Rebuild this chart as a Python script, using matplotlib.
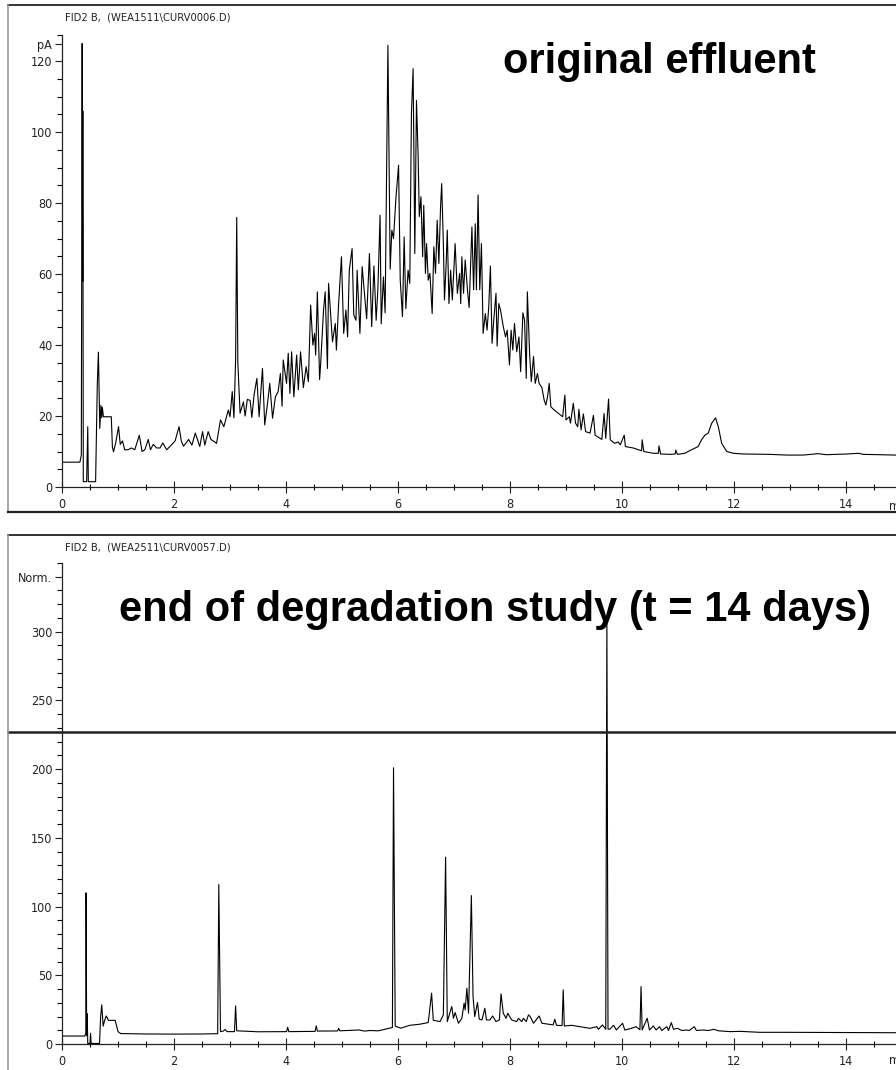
import numpy as np
import matplotlib
matplotlib.use('Agg')
import matplotlib.pyplot as plt
from matplotlib.lines import Line2D

# top trace: original effluent (time in min, signal in pA)
t_top = [0.0, 0.32, 0.345, 0.36, 0.368, 0.372, 0.38, 0.44, 0.46, 0.47, 0.60, 0.63, 0.65, 0.66,
         0.675, 0.695, 0.71, 0.72, 0.74, 0.88, 0.90, 0.92, 0.96, 1.01, 1.04, 1.08, 1.12, 1.18,
         1.24, 1.30, 1.38, 1.43, 1.48, 1.54, 1.58, 1.63, 1.69, 1.75, 1.80, 1.87, 1.95, 2.02,
         2.09, 2.13, 2.17, 2.22, 2.26, 2.32, 2.38, 2.46, 2.51, 2.55, 2.61, 2.66, 2.70, 2.76,
         2.83, 2.89, 2.97, 3.00, 3.04, 3.07, 3.10, 3.12, 3.14, 3.18, 3.24, 3.27, 3.31, 3.36,
         3.39, 3.43, 3.48, 3.52, 3.58, 3.62, 3.67, 3.71, 3.76, 3.81, 3.86, 3.90, 3.93, 3.95,
         4.01, 4.04, 4.07, 4.10, 4.14, 4.19, 4.22, 4.26, 4.31, 4.36, 4.40, 4.44, 4.48, 4.51,
         4.53, 4.56, 4.60, 4.62, 4.67, 4.70, 4.74, 4.76, 4.80, 4.83, 4.88, 4.90, 4.94, 4.99,
         5.03, 5.07, 5.10, 5.13, 5.18, 5.21, 5.25, 5.27, 5.32, 5.36, 5.40, 5.44, 5.49, 5.53,
         5.57, 5.61, 5.64, 5.68, 5.70, 5.74, 5.77, 5.82, 5.86, 5.89, 5.92, 5.96, 6.01, 6.04,
         6.08, 6.11, 6.14, 6.18, 6.21, 6.24, 6.27, 6.30, 6.33, 6.36, 6.38, 6.41, 6.44, 6.46,
         6.49, 6.51, 6.54, 6.57, 6.61, 6.64, 6.67, 6.70, 6.73, 6.76, 6.78, 6.81, 6.83, 6.86,
         6.88, 6.91, 6.94, 6.97, 7.02, 7.06, 7.10, 7.12, 7.14, 7.17, 7.20, 7.24, 7.27, 7.32,
         7.35, 7.38, 7.40, 7.43, 7.46, 7.49, 7.52, 7.56, 7.59, 7.62, 7.65, 7.68, 7.71, 7.75,
         7.77, 7.80, 7.83, 7.88, 7.92, 7.95, 7.99, 8.02, 8.05, 8.08, 8.12, 8.16, 8.19, 8.23,
         8.26, 8.29, 8.31, 8.35, 8.38, 8.42, 8.45, 8.49, 8.52, 8.57, 8.61, 8.64, 8.67, 8.70,
         8.73, 8.79, 8.86, 8.94, 8.98, 9.00, 9.06, 9.08, 9.13, 9.17, 9.21, 9.23, 9.27, 9.31,
         9.35, 9.43, 9.49, 9.52, 9.64, 9.68, 9.71, 9.76, 9.79, 9.87, 9.93, 9.97, 10.04, 10.06,
         10.20, 10.35, 10.36, 10.39, 10.56, 10.65, 10.66, 10.69, 10.86, 10.95, 10.96, 10.99,
         11.12, 11.23, 11.36, 11.42, 11.48, 11.54, 11.60, 11.67, 11.72, 11.78, 11.87, 11.99,
         12.17, 12.64, 12.94, 13.24, 13.50, 13.65, 14.01, 14.22, 14.31, 14.89]
y_top = [7.0, 7.0, 9.0, 125, 58, 106, 1.5, 1.5, 17, 1.5, 1.5, 28.7, 38, 29,
         16.5, 23, 19.5, 22.5, 19.8, 19.8, 11.3, 9.9, 12.5, 17, 12, 13, 10.5, 10.5,
         11, 10.5, 14.6, 10, 10.5, 13.4, 10.5, 12, 11, 11, 12.4, 10.5, 11.8, 13,
         17, 13, 11.5, 12.5, 13.4, 11.8, 15.2, 11.4, 15.6, 11.8, 15.6, 13.4, 13.0, 12.3,
         18.9, 17, 21.7, 19.8, 26.9, 19.5, 35.8, 76, 35, 20.8, 24, 20, 24.7, 24.4,
         19.6, 26, 30.6, 19.8, 33.4, 17.5, 23.6, 29.2, 19.4, 25.4, 26.9, 32, 22.8, 35.8,
         29.2, 37.7, 26.4, 38.1, 25.4, 37.2, 27.4, 38.1, 28, 33.9, 29.7, 51.3, 40, 43.3,
         37.2, 55, 30.3, 35, 49.9, 55, 33.4, 57.4, 48, 40.9, 46.1, 38.6, 51.7, 64.9,
         43.3, 49.9, 42.3, 61.1, 67.2, 48.5, 47, 61.1, 43.3, 62.1, 54.6, 47.4, 65.8, 45.2,
         62.3, 47, 55.6, 76.6, 46, 59.2, 49.1, 124.5, 61.4, 72.4, 70, 80.8, 90.7, 58.3,
         48, 70.5, 50.3, 61.1, 57.4, 105.3, 117.9, 65.8, 109, 93, 76.2, 81.8, 64.9, 79.4,
         60.2, 68.6, 58.3, 60.2, 48.9, 67.7, 60.2, 75.2, 63, 79, 85.5, 68.6, 52.7, 63,
         72.4, 51.7, 61.1, 52.7, 68.6, 54.6, 60.2, 51.7, 64.9, 54.6, 64, 55.6, 50.6, 73.3,
         55.6, 74.2, 55.6, 82.3, 55.6, 68.6, 43.3, 48.9, 44.2, 50.6, 62.3, 40.5, 47, 54.6,
         39.7, 51.7, 49.9, 45.2, 42.3, 44.2, 34.4, 44.2, 38.6, 46.1, 38.1, 42.3, 32.5, 49.1,
         47, 30.6, 55, 37.7, 29.7, 36.8, 29.2, 32, 29.2, 28, 24.5, 23.1, 25.4, 29.2,
         22.6, 21.7, 20.8, 19.8, 25.9, 18.9, 19.8, 18, 23.6, 18, 17, 21.9, 16.1, 20.6,
         15.6, 15.2, 20.2, 14.6, 13.4, 20.7, 13.7, 24.8, 13.3, 12.3, 12.7, 11.9, 14.6, 11.4,
         11.0, 10.2, 13.3, 10.0, 9.5, 9.5, 11.6, 9.3, 9.2, 9.3, 10.4, 9.2,
         9.5, 10.4, 11.4, 13.3, 14.6, 15.2, 17.9, 19.5, 17, 12.3, 10, 9.5,
         9.3, 9.2, 9.0, 9.0, 9.4, 9.1, 9.3, 9.5, 9.2, 9.0]

# bottom trace: end of degradation study (normalised signal)
t_bot = [0.0, 0.41, 0.425, 0.43, 0.44, 0.45, 0.46, 0.50, 0.51, 0.52, 0.67, 0.69, 0.71, 0.735,
         0.76, 0.79, 0.83, 0.95, 1.00, 1.05, 1.50, 2.00, 2.50, 2.78, 2.80, 2.83, 2.88, 2.91,
         2.95, 3.08, 3.10, 3.12, 3.50, 4.01, 4.03, 4.05, 4.52, 4.54, 4.56, 4.92, 4.94, 4.96,
         5.30, 5.40, 5.50, 5.65, 5.80, 5.90, 5.92, 5.95, 6.05, 6.21, 6.39, 6.54, 6.60, 6.63,
         6.75, 6.81, 6.85, 6.88, 6.96, 6.99, 7.02, 7.08, 7.14, 7.18, 7.20, 7.23, 7.26, 7.31,
         7.34, 7.37, 7.42, 7.45, 7.50, 7.55, 7.58, 7.64, 7.69, 7.75, 7.81, 7.84, 7.88, 7.93,
         7.96, 8.03, 8.12, 8.15, 8.21, 8.24, 8.29, 8.33, 8.36, 8.42, 8.52, 8.57, 8.65, 8.77,
         8.80, 8.83, 8.93, 8.95, 8.97, 9.10, 9.25, 9.43, 9.55, 9.58, 9.65, 9.71, 9.73, 9.75,
         9.78, 9.85, 9.90, 10.01, 10.05, 10.17, 10.25, 10.32, 10.34, 10.36, 10.45, 10.49,
         10.56, 10.61, 10.67, 10.71, 10.80, 10.83, 10.88, 10.92, 10.99, 11.07, 11.15, 11.20,
         11.29, 11.33, 11.45, 11.54, 11.64, 11.72, 11.93, 12.11, 12.46, 12.94, 13.54, 14.61,
         14.89]
y_bot = [5.8, 5.8, 8, 110, 6, 22, 0.4, 0.4, 7.8, 0.4, 0.4, 20, 28.5, 13,
         17, 20.4, 17.2, 17.2, 9, 7.6, 7.3, 7.2, 7.3, 7.5, 116, 9, 9.4, 10.5,
         9.0, 9.0, 27.7, 9.6, 8.9, 9.0, 12.2, 9.0, 9.2, 13.2, 9.4, 9.5, 11.5, 9.6,
         10.2, 9.4, 9.8, 9.6, 11, 12, 201, 13, 11.5, 13.6, 14.4, 15.6, 37, 17.3,
         16.3, 21.2, 136, 16.3, 27.3, 18.7, 22.9, 15.1, 18.7, 29.7, 24.8, 40.6, 22.4, 108,
         34.5, 20, 30.2, 18.1, 17.5, 26, 17.5, 17.5, 20.4, 16.3, 17.5, 36.5, 22.4, 18.7,
         22.4, 17.5, 16.3, 18.7, 16.3, 18.7, 16.3, 21.2, 20, 15.1, 20.4, 15.1, 14.6, 13.9,
         18.1, 13.6, 13.4, 39.4, 13.1, 13.6, 12.6, 11.4, 12.6, 10.7, 13.9, 10.7, 310, 10.9,
         10.7, 13.6, 10.2, 15.1, 10.2, 11.4, 12.6, 10.4, 41.8, 10.2, 18.7, 10.2,
         13.1, 10.2, 12.6, 9.8, 12.6, 9.8, 15.6, 10.7, 11.4, 9.8, 10.2, 9.8,
         12.6, 9.8, 10.2, 9.8, 10.7, 9.6, 9.0, 9.2, 8.5, 8.5, 8.4, 8.3,
         8.2]

top_yticks = [0, 20, 40, 60, 80, 100, 120, 125]
top_ylabels = ['0', '20', '40', '60', '80', '100', '120', 'pA']
bot_yticks = [0, 50, 100, 150, 200, 250, 300, 340]
bot_ylabels = ['0', '50', '100', '150', '200', '250', '300', 'Norm.']
xticks = [0, 2, 4, 6, 8, 10, 12, 14]

W, H = 896, 1070
# condensed face, close to the narrow font of the instrument printout
narrow = dict(family='DejaVu Sans', fontstretch='condensed')

fig = plt.figure(figsize=(W / 100, H / 100), dpi=100)
fig.patch.set_facecolor('white')

def px(x, y):
    return x / W, 1 - y / H

# outer frames of the two instrument printouts
for y_top_px, y_bot_px in [(5, 512), (535, 1075)]:
    fig.add_artist(Line2D([8 / W, 1], [1 - y_top_px / H] * 2, color='#333333', lw=1.4))
    fig.add_artist(Line2D([8 / W, 8 / W], [1 - y_top_px / H, 1 - y_bot_px / H],
                          color='#999999', lw=1.2))
fig.add_artist(Line2D([8 / W, 1], [1 - 512 / H] * 2, color='#222222', lw=1.6))


def style_axis(ax, ymax, yticks, ylabels, minor_step):
    ax.set_xlim(0, (W - 62) / 56)
    ax.set_ylim(0, ymax)
    for s in ['top', 'right']:
        ax.spines[s].set_visible(False)
    for s in ['left', 'bottom']:
        ax.spines[s].set_color('#222222')
        ax.spines[s].set_linewidth(0.9)
    ax.set_xticks(xticks)
    ax.set_xticks(np.arange(0.5, 15, 0.5), minor=True)
    ax.set_yticks(yticks)
    ax.set_yticklabels(ylabels)
    minor = list(np.arange(minor_step, ymax, minor_step)) + [ymax]
    ax.set_yticks(minor, minor=True)
    ax.tick_params(axis='x', which='major', direction='inout', length=8, width=0.8, pad=4,
                   labelsize=9, colors='#222222')
    ax.tick_params(axis='x', which='minor', direction='inout', length=5, width=0.8)
    ax.tick_params(axis='y', which='major', direction='out', length=5, width=0.8, pad=2,
                   labelsize=9, colors='#222222')
    ax.tick_params(axis='y', which='minor', direction='out', length=3.5, width=0.8)
    for lab in ax.get_xticklabels() + ax.get_yticklabels():
        lab.set_family(narrow['family'])
        lab.set_fontstretch(narrow['fontstretch'])
    ax.patch.set_alpha(0)


ax1 = fig.add_axes([62 / W, 1 - 487 / H, (W - 62) / W, (487 - 35) / H])
ax1.plot(t_top, y_top, color='black', lw=0.8)
style_axis(ax1, 127.4, top_yticks, top_ylabels, 5)

ax2 = fig.add_axes([62 / W, 1 - 1044 / H, (W - 62) / W, (1044 - 563) / H])
ax2.plot(t_bot, y_bot, color='black', lw=0.8)
style_axis(ax2, 350, bot_yticks, bot_ylabels, 10)
ax2.axhline(227, xmin=(8 - 62) / (W - 62), xmax=1, color='#222222', lw=1.8, clip_on=False)

# "min" unit labels, cut by the right edge as in the printout
for yy in [506, 1060]:
    fig.text(*px(889, yy), 'min', fontsize=9, va='center', ha='left', color='#222222',
             **narrow)

fig.text(*px(65, 17), 'FID2 B,  (WEA1511\\CURV0006.D)', fontsize=8, va='center',
         ha='left', color='#222222', **narrow)
fig.text(*px(65, 547), 'FID2 B,  (WEA2511\\CURV0057.D)', fontsize=8, va='center',
         ha='left', color='#222222', **narrow)

fig.text(*px(659, 62), 'original effluent', family=['Liberation Sans', 'DejaVu Sans'],
         fontsize=30, fontweight='bold', ha='center', va='center')
fig.text(*px(495, 610), 'end of degradation study (t = 14 days)',
         family=['Liberation Sans', 'DejaVu Sans'], fontsize=30, fontweight='bold',
         ha='center', va='center')

fig.savefig('out.png', dpi=100)
